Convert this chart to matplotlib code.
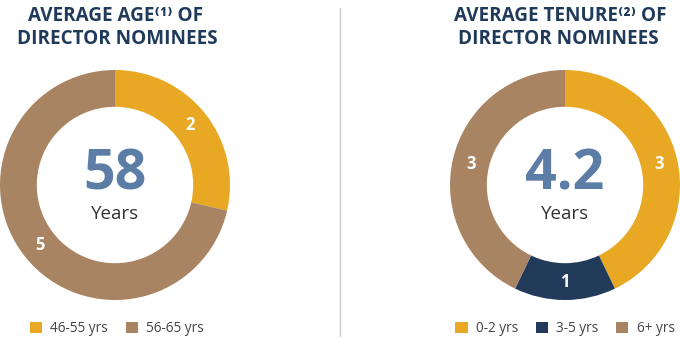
import numpy as np
import matplotlib.pyplot as plt

# data
age_labels = ['46-55 yrs', '56-65 yrs']
age_counts = [2, 5]
age_avg = '58'

tenure_labels = ['0-2 yrs', '3-5 yrs', '6+ yrs']
tenure_counts = [3, 1, 3]
tenure_avg = '4.2'

GOLD = '#E8A823'
BROWN = '#A88462'
NAVY = '#223B5B'
TITLE = '#1F3A5A'
NUM = '#5B7DA6'

plt.rcParams['font.family'] = ['Open Sans', 'DejaVu Sans']

W, H = 680, 341
fig = plt.figure(figsize=(W / 100, H / 100), dpi=100)


def px_axes(x0, y0, w, h):
    # pixel box (top-left origin) -> figure fraction axes
    return fig.add_axes([x0 / W, 1 - (y0 + h) / H, w / W, h / H])


def donut(ax, counts, colors, avg):
    total = sum(counts)
    wedges, _, autotexts = ax.pie(
        counts, colors=colors, startangle=90, counterclock=False,
        wedgeprops=dict(width=0.32, linewidth=0),
        autopct=lambda p: '%d' % round(p * total / 100.0), pctdistance=0.84,
        textprops=dict(color='white', fontsize=12, fontweight='bold'))
    ax.set_xlim(-1, 1)
    ax.set_ylim(-1, 1)
    ax.text(0, 0.09, avg, ha='center', va='center', fontsize=40,
            fontweight='bold', color=NUM)
    ax.text(0, -0.25, 'Years', ha='center', va='center', fontsize=13.5,
            color='#333333')
    return wedges


ax1 = px_axes(0, 70, 230, 230)
w1 = donut(ax1, age_counts, [GOLD, BROWN], age_avg)

ax2 = px_axes(450, 70, 230, 230)
w2 = donut(ax2, tenure_counts, [GOLD, NAVY, BROWN], tenure_avg)

# titles
tkw = dict(ha='center', va='center', fontsize=13.6, fontweight='bold', color=TITLE)
fig.text(116 / W, 1 - 16 / H, 'AVERAGE AGE\u207d\u00b9\u207e OF', **tkw)
fig.text(117.5 / W, 1 - 38.5 / H, 'DIRECTOR NOMINEES', **tkw)
fig.text(560.5 / W, 1 - 16 / H, 'AVERAGE TENURE\u207d\u00b2\u207e OF', **tkw)
fig.text(558 / W, 1 - 38.5 / H, 'DIRECTOR NOMINEES', **tkw)

# divider
fig.add_artist(plt.Line2D([340 / W, 340 / W], [1 - 8 / H, 1 - 336 / H],
                          color='#C9CED4', linewidth=1))

# legends
lkw = dict(loc='center', frameon=False, fontsize=9.8, handlelength=0.9,
           handleheight=0.9, handletextpad=0.6, columnspacing=1.3,
           labelcolor='#444444')
fig.legend(w1, age_labels, ncol=2, bbox_to_anchor=(117 / W, 1 - 329 / H), **lkw)
fig.legend(w2, tenure_labels, ncol=3, bbox_to_anchor=(565 / W, 1 - 329 / H), **lkw)

fig.savefig('out.png', dpi=100)
